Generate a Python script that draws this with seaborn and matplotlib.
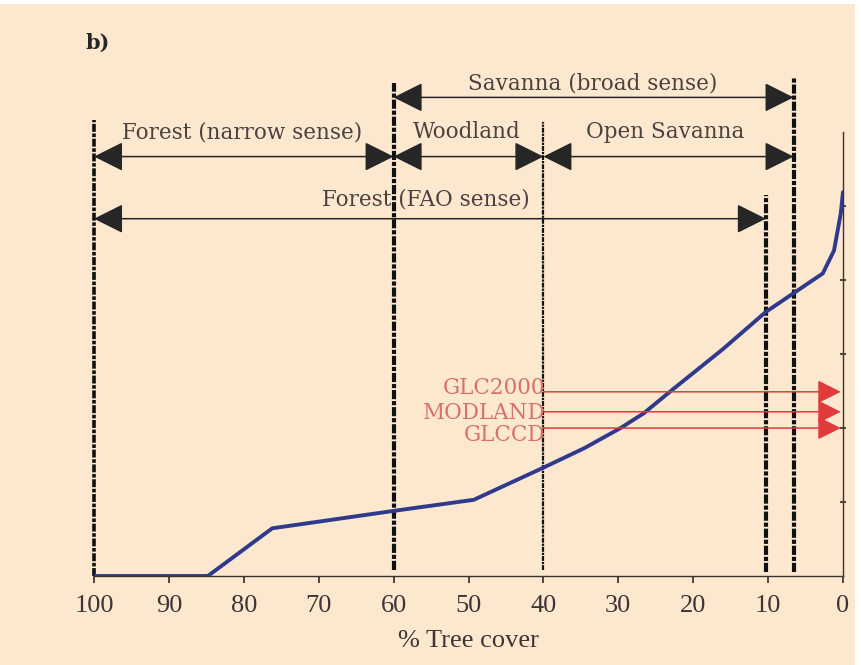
import numpy as np
import pandas as pd
import matplotlib.pyplot as plt
from matplotlib.patches import Rectangle
import seaborn as sns

# curve (x = % tree cover, y = cumulative value)
tree_cover = [100, 84.8, 76.2, 60, 49.3, 40.1, 34.5, 29.7, 26.6, 23, 16, 10.3, 6.5, 2.7, 1.2, 0.3, 0]
cover_value = [0, 0, 0.645, 0.88, 1.03, 1.46, 1.73, 2.0, 2.2, 2.5, 3.07, 3.57, 3.83, 4.09, 4.4, 4.9, 5.19]

# class boundaries (% tree cover) and how high each dashed line reaches
bounds = [100, 60, 40, 10.3, 6.6]
bound_top = [6.16, 6.66, 6.14, 5.15, 6.74]
bound_bottom = [0, 0.08, 0.08, 0.06, 0.06]
bound_lw = [2.6, 3.0, 1.6, 3.0, 3.0]

# class spans (arrows)
span_names = ["Savanna (broad sense)", "Forest (narrow sense)", "Woodland", "Open Savanna", "Forest (FAO sense)"]
span_from = [60, 100, 60, 40, 100]
span_to = [6.6, 60, 40, 6.6, 10.3]
span_level = [6.47, 5.67, 5.67, 5.67, 4.83]
span_text_x = [33.4, 80.2, 50.3, 23.8, 55.7]
span_text_y = [6.58, 5.92, 5.92, 5.92, 5.01]

# land cover products threshold
products = ["GLC2000", "MODLAND", "GLCCD"]
product_level = [2.49, 2.22, 2.0]
product_text_y = [2.54, 2.2, 1.9]
product_from = 40
product_to = 0.3

peach = "#fce7cf"
ink = "#3a3330"

sns.set_theme(style="ticks")
plt.rcParams["font.family"] = ["DejaVu Serif"]

fig = plt.figure(figsize=(8.62, 6.65), dpi=100, facecolor="white")
fig.patches.append(Rectangle((0, 0), 855 / 862, 661 / 665, transform=fig.transFigure,
                             facecolor=peach, edgecolor="none", zorder=-5))
ax = fig.add_axes([94 / 862, 89 / 665, 749 / 862, 540 / 665])
ax.set_facecolor("none")

df = pd.DataFrame({"cover": tree_cover, "value": cover_value})
sns.lineplot(data=df, x="cover", y="value", ax=ax, color="#2f3a8c", lw=2.8, zorder=4)

for b, lo, hi, w in zip(bounds, bound_bottom, bound_top, bound_lw):
    ax.plot([b, b], [lo, hi], color="#111111", lw=w, ls=(0, (2.2, 0.45, 1, 0.45)),
            zorder=3, clip_on=False)

for name, a, b, lvl, tx, ty in zip(span_names, span_from, span_to, span_level, span_text_x, span_text_y):
    ax.annotate("", xy=(b, lvl), xytext=(a, lvl),
                arrowprops=dict(arrowstyle="<|-|>,head_length=0.4,head_width=0.2",
                                mutation_scale=46, shrinkA=0, shrinkB=0,
                                color="#262626", lw=1.1))
    ax.text(tx, ty, name, ha="center", va="baseline", fontsize=15.5, color="#4a4240")

for name, lvl, ty in zip(products, product_level, product_text_y):
    ax.annotate("", xy=(product_to, lvl), xytext=(product_from, lvl),
                arrowprops=dict(arrowstyle="-|>,head_length=0.4,head_width=0.2",
                                mutation_scale=36, shrinkA=0, shrinkB=0,
                                color="#e03a3a", lw=1.1), zorder=5)
    ax.text(product_from - 0.3, ty, name, ha="right", va="center", fontsize=15.5,
            color="#d8706a")

ax.set_xlim(100, 0)
ax.set_ylim(0, 7.3)
ax.set_xticks(np.arange(100, -1, -10))
ax.set_yticks([1, 2, 3, 4, 5])
ax.yaxis.tick_right()
ax.tick_params(axis="y", direction="inout", length=5, labelright=False, color=ink)
ax.tick_params(axis="x", direction="out", length=5, pad=9, color=ink, labelcolor="#3d3535")
for lab in ax.get_xticklabels():
    lab.set_family(["Liberation Serif"])
    lab.set_fontsize(19)

for s in ["top", "left"]:
    ax.spines[s].set_visible(False)
ax.spines["right"].set_bounds(0, 6)
for s in ["right", "bottom"]:
    ax.spines[s].set_color(ink)
    ax.spines[s].set_linewidth(1.0)

ax.set_xlabel("% Tree cover", fontsize=19, family=["Liberation Serif"], color="#3d3535", labelpad=9)
ax.set_ylabel("")

fig.text(86 / 862, 1 - 43 / 665, "b)", fontsize=15, fontweight="bold", va="center", color="#2a2525")

fig.savefig("out.png", dpi=100, facecolor=fig.get_facecolor())
